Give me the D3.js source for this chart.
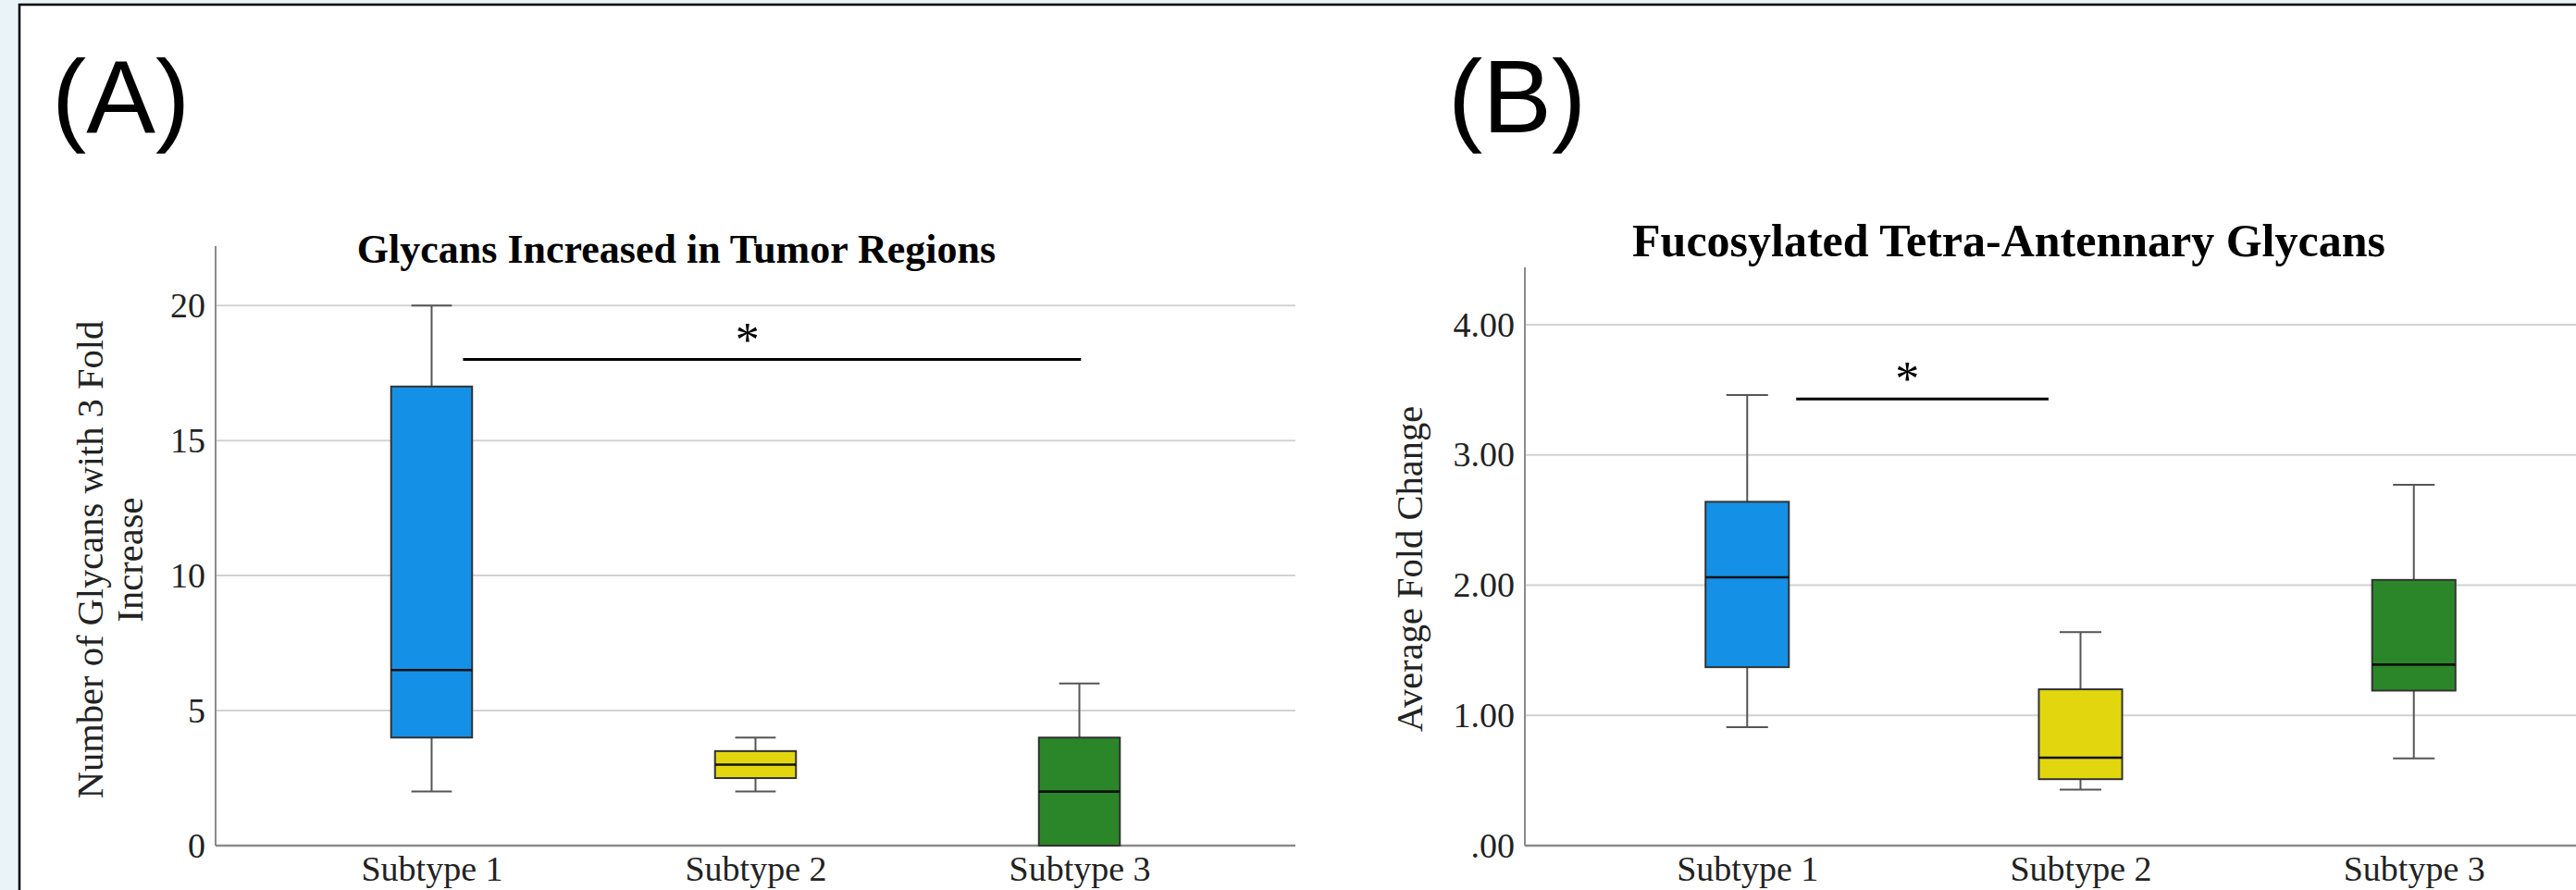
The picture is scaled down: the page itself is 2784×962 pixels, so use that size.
<!DOCTYPE html>
<html>
<head>
<meta charset="utf-8">
<script src="https://cdn.jsdelivr.net/npm/d3@7"></script>
<style>
  html, body { margin: 0; padding: 0; background: #eaf4f8; overflow: hidden; }
  svg { display: block; }
</style>
</head>
<body>
<svg id="chart" width="2784" height="962"></svg>
<script>
// ---------------- DATA ----------------
const categories = ["Subtype 1", "Subtype 2", "Subtype 3"];
const boxColors = ["#1490e6", "#e2d70f", "#2b8629"];

// Panel A: Glycans Increased in Tumor Regions
const titleA = "Glycans Increased in Tumor Regions";
const yTitleA = ["Number of Glycans with 3 Fold", "Increase"];
const minA    = [2,   2,   0];
const q1A     = [4,   2.5, 0];
const medianA = [6.5, 3,   2];
const q3A     = [17,  3.5, 4];
const maxA    = [20,  4,   6];
const tickValuesA = [0, 5, 10, 15, 20];
const tickLabelsA = ["0", "5", "10", "15", "20"];
const yMaxA = 22.2;
const sigA = { from: 0.097, to: 2.005, value: 18, star: 0.975 };

// Panel B: Fucosylated Tetra-Antennary Glycans
const titleB = "Fucosylated Tetra-Antennary Glycans";
const yTitleB = ["Average Fold Change"];
const minB    = [0.91, 0.43, 0.67];
const q1B     = [1.37, 0.51, 1.19];
const medianB = [2.06, 0.675, 1.39];
const q3B     = [2.64, 1.20, 2.04];
const maxB    = [3.46, 1.64, 2.77];
const tickValuesB = [0, 1, 2, 3, 4];
const tickLabelsB = [".00", "1.00", "2.00", "3.00", "4.00"];
const yMaxB = 4.44;
const sigB = { from: 0.147, to: 0.904, value: 3.43, star: 0.48 };

// ---------------- LAYOUT ----------------
const SERIF = "'Liberation Serif', 'Times New Roman', Times, serif";
const SANS = "'Liberation Sans', Arial, Helvetica, sans-serif";
const svg = d3.select("#chart");

// frame
svg.append("rect")
  .attr("x", 21).attr("y", 5)
  .attr("width", 2900).attr("height", 1100)
  .attr("fill", "#ffffff")
  .attr("stroke", "#000").attr("stroke-width", 2.5);

svg.append("text").text("(A)")
  .attr("x", 56).attr("y", 143)
  .attr("font-family", SANS).attr("font-size", 112).attr("fill", "#000");
svg.append("text").text("(B)")
  .attr("x", 1565).attr("y", 143)
  .attr("font-family", SANS).attr("font-size", 112).attr("fill", "#000");

function drawPanel(cfg) {
  const g = svg.append("g");
  const stats = categories.map((c, i) => ({
    cat: c, i: i,
    min: cfg.min[i], q1: cfg.q1[i], med: cfg.median[i], q3: cfg.q3[i], max: cfg.max[i],
    color: boxColors[i]
  }));

  const x = d3.scalePoint().domain(categories)
    .range([cfg.left, cfg.left + cfg.width]).padding(0.667);
  const step = x.step();
  const idx = d3.scaleLinear().domain([0, 1]).range([x(categories[0]), x(categories[0]) + step]);
  const y = d3.scaleLinear().domain([0, cfg.yMax]).range([cfg.bottom, cfg.top]);

  const boxW = step * 0.25;
  const capW = boxW * 0.5;

  // gridlines
  g.append("g").selectAll("line").data(cfg.tickValues.filter(v => v > 0)).join("line")
    .attr("x1", cfg.left).attr("x2", cfg.left + cfg.width)
    .attr("y1", d => y(d)).attr("y2", d => y(d))
    .attr("stroke", "#d2d2d2").attr("stroke-width", 2);

  // y axis with d3 axis (no ticks)
  const yAxis = d3.axisLeft(y).tickValues(cfg.tickValues)
    .tickFormat((d, i) => cfg.tickLabels[i]).tickSize(0).tickPadding(11);
  const ya = g.append("g").attr("transform", `translate(${cfg.left},0)`).call(yAxis);
  ya.select(".domain").remove();
  ya.selectAll("text")
    .attr("font-family", SERIF).attr("font-size", cfg.tickSize).attr("fill", "#222");

  // axis lines
  g.append("line")
    .attr("x1", cfg.left).attr("x2", cfg.left)
    .attr("y1", y(cfg.yMax)).attr("y2", y(0))
    .attr("stroke", "#8a8a8a").attr("stroke-width", 2);
  g.append("line")
    .attr("x1", cfg.left).attr("x2", cfg.left + cfg.width)
    .attr("y1", y(0)).attr("y2", y(0))
    .attr("stroke", "#8a8a8a").attr("stroke-width", 2.5);

  // x labels
  const xAxis = d3.axisBottom(x).tickSize(0).tickPadding(cfg.xPad);
  const xa = g.append("g").attr("transform", `translate(0,${y(0)})`).call(xAxis);
  xa.select(".domain").remove();
  xa.selectAll("text")
    .attr("font-family", SERIF).attr("font-size", cfg.tickSize).attr("fill", "#222");

  // boxes
  const b = g.append("g").selectAll("g").data(stats).join("g");
  b.append("line")
    .attr("x1", d => x(d.cat)).attr("x2", d => x(d.cat))
    .attr("y1", d => y(d.max)).attr("y2", d => y(d.q3))
    .attr("stroke", "#555").attr("stroke-width", 2);
  b.append("line")
    .attr("x1", d => x(d.cat)).attr("x2", d => x(d.cat))
    .attr("y1", d => y(d.q1)).attr("y2", d => y(d.min))
    .attr("stroke", "#555").attr("stroke-width", 2);
  b.append("line")
    .attr("x1", d => x(d.cat) - capW / 2).attr("x2", d => x(d.cat) + capW / 2)
    .attr("y1", d => y(d.max)).attr("y2", d => y(d.max))
    .attr("stroke", "#555").attr("stroke-width", 2);
  b.append("line")
    .attr("x1", d => x(d.cat) - capW / 2).attr("x2", d => x(d.cat) + capW / 2)
    .attr("y1", d => y(d.min)).attr("y2", d => y(d.min))
    .attr("stroke", "#555").attr("stroke-width", 2);
  b.append("rect")
    .attr("x", d => x(d.cat) - boxW / 2).attr("width", boxW)
    .attr("y", d => y(d.q3)).attr("height", d => y(d.q1) - y(d.q3))
    .attr("fill", d => d.color)
    .attr("stroke", "#333").attr("stroke-width", 2);
  b.append("line")
    .attr("x1", d => x(d.cat) - boxW / 2).attr("x2", d => x(d.cat) + boxW / 2)
    .attr("y1", d => y(d.med)).attr("y2", d => y(d.med))
    .attr("stroke", "#111").attr("stroke-width", 2.6);

  // significance
  g.append("line")
    .attr("x1", idx(cfg.sig.from)).attr("x2", idx(cfg.sig.to))
    .attr("y1", y(cfg.sig.value)).attr("y2", y(cfg.sig.value))
    .attr("stroke", "#000").attr("stroke-width", 3);
  g.append("text").text("*")
    .attr("x", idx(cfg.sig.star)).attr("y", y(cfg.sig.value) - cfg.starGap)
    .attr("text-anchor", "middle")
    .attr("font-family", SERIF).attr("font-size", 52).attr("fill", "#000");

  // title
  g.append("text").text(cfg.title)
    .attr("x", cfg.titleX).attr("y", cfg.titleY)
    .attr("text-anchor", "middle")
    .attr("font-family", SERIF).attr("font-weight", "bold")
    .attr("font-size", cfg.titleSize).attr("fill", "#000");

  // y title
  cfg.yTitle.forEach((t, i) => {
    g.append("text").text(t)
      .attr("transform", `translate(${cfg.yTitleX + i * 43},${cfg.yTitleY}) rotate(-90)`)
      .attr("text-anchor", "middle")
      .attr("font-family", SERIF).attr("font-size", 40.5).attr("fill", "#222");
  });
}

drawPanel({
  min: minA, q1: q1A, median: medianA, q3: q3A, max: maxA,
  tickValues: tickValuesA, tickLabels: tickLabelsA, yMax: yMaxA, sig: sigA,
  title: titleA, yTitle: yTitleA,
  left: 233, width: 1167, top: 266, bottom: 914,
  tickSize: 38, xPad: 11, starGap: 4,
  titleX: 731, titleY: 284, titleSize: 44,
  yTitleX: 111, yTitleY: 605
});

drawPanel({
  min: minB, q1: q1B, median: medianB, q3: q3B, max: maxB,
  tickValues: tickValuesB, tickLabels: tickLabelsB, yMax: yMaxB, sig: sigB,
  title: titleB, yTitle: yTitleB,
  left: 1648, width: 1201, top: 289, bottom: 914,
  tickSize: 38, xPad: 11, starGap: 4,
  titleX: 2171, titleY: 277, titleSize: 50,
  yTitleX: 1537, yTitleY: 615
});
</script>
</body>
</html>
